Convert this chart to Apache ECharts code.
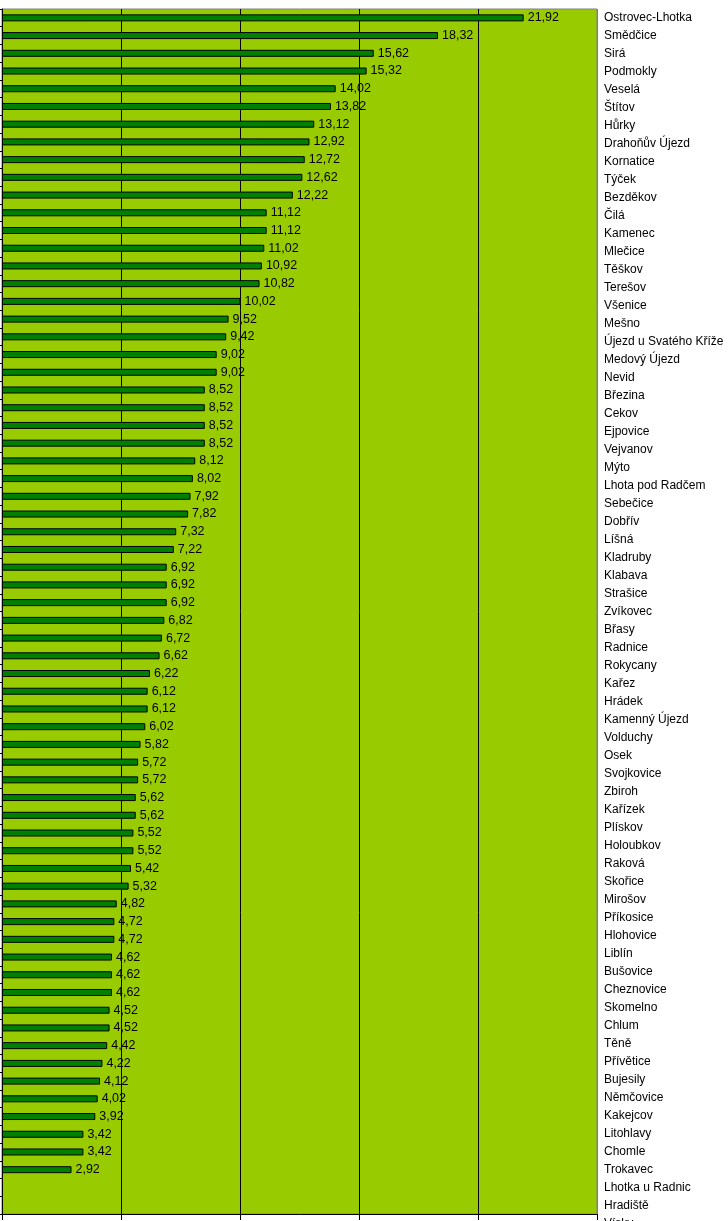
<!DOCTYPE html>
<html><head><meta charset="utf-8">
<style>html,body{margin:0;padding:0;background:#fff;}#c{width:728px;height:1221px;}</style>
<script src="https://cdn.jsdelivr.net/npm/echarts@6/dist/echarts.min.js"></script>
</head><body><div id="c"></div>
<script>
const categories = ["Ostrovec-Lhotka","Smědčice","Sirá","Podmokly","Veselá","Štítov","Hůrky","Drahoňův Újezd","Kornatice","Týček","Bezděkov","Čilá","Kamenec","Mlečice","Těškov","Terešov","Všenice","Mešno","Újezd u Svatého Kříže","Medový Újezd","Nevid","Březina","Cekov","Ejpovice","Vejvanov","Mýto","Lhota pod Radčem","Sebečice","Dobřív","Líšná","Kladruby","Klabava","Strašice","Zvíkovec","Břasy","Radnice","Rokycany","Kařez","Hrádek","Kamenný Újezd","Volduchy","Osek","Svojkovice","Zbiroh","Kařízek","Plískov","Holoubkov","Raková","Skořice","Mirošov","Příkosice","Hlohovice","Liblín","Bušovice","Cheznovice","Skomelno","Chlum","Těně","Přívětice","Bujesily","Němčovice","Kakejcov","Litohlavy","Chomle","Trokavec","Lhotka u Radnic","Hradiště","Vísky"];
const values = [21.92,18.32,15.62,15.32,14.02,13.82,13.12,12.92,12.72,12.62,12.22,11.12,11.12,11.02,10.92,10.82,10.02,9.52,9.42,9.02,9.02,8.52,8.52,8.52,8.52,8.12,8.02,7.92,7.82,7.32,7.22,6.92,6.92,6.92,6.82,6.72,6.62,6.22,6.12,6.12,6.02,5.82,5.72,5.72,5.62,5.62,5.52,5.52,5.42,5.32,4.82,4.72,4.72,4.62,4.62,4.62,4.52,4.52,4.42,4.22,4.12,4.02,3.92,3.42,3.42,2.92,'-','-'];
const xTicks = {min: 0, max: 25, interval: 5};

const font = '"Liberation Sans", Arial, sans-serif';
const chart = echarts.init(document.getElementById('c'), null, {renderer: 'canvas'});
chart.setOption({
  animation: false,
  textStyle: {fontFamily: font},
  grid: [
    {left: 2, top: 9, width: 595, height: 1205, show: true, backgroundColor: '#99CC00', borderColor: '#808080', borderWidth: 1, outerBoundsMode: 'none'},
    {left: 2, top: 9, width: 595, height: 1224, show: false, outerBoundsMode: 'none'}
  ],
  xAxis: [
    {type: 'value', gridIndex: 0, min: xTicks.min, max: xTicks.max, interval: xTicks.interval,
     axisLine: {show: true, lineStyle: {color: '#000', width: 1}},
     axisTick: {show: true, length: 6, lineStyle: {color: '#000'}},
     axisLabel: {show: false},
     splitLine: {show: true, lineStyle: {color: ['#000','#000','#000','#000','#000','#808080'], width: 1}}},
    {type: 'value', gridIndex: 1, min: 0, max: 1, show: false}
  ],
  yAxis: [
    {type: 'category', gridIndex: 0, data: categories, inverse: true,
     axisLine: {show: true, lineStyle: {color: '#000', width: 1}},
     axisTick: {show: true, length: 3, interval: 0, lineStyle: {color: '#000'}},
     axisLabel: {show: false}, splitLine: {show: false}},
    {type: 'category', gridIndex: 1, data: categories, inverse: true, position: 'right',
     axisLine: {show: false}, axisTick: {show: false},
     axisLabel: {show: true, interval: 0, margin: 7, color: '#000', fontSize: 12, fontFamily: font}}
  ],
  series: [{
    type: 'bar', xAxisIndex: 0, yAxisIndex: 0, data: values, barWidth: 7,
    itemStyle: {color: '#008000', borderColor: '#000', borderWidth: 1},
    label: {show: true, position: 'right', distance: 4, color: '#000', fontSize: 12.5, fontFamily: font,
            formatter: p => (typeof p.value === 'number' ? p.value.toFixed(2).replace('.', ',') : '')}
  }]
});
</script></body></html>
